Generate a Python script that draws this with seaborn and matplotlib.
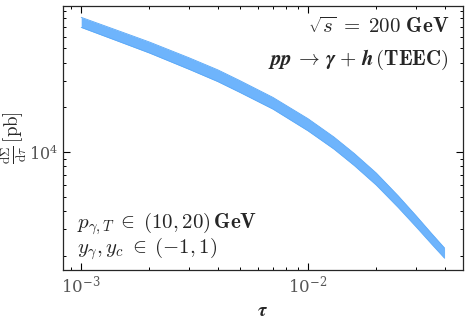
import matplotlib
matplotlib.use('Agg')
from matplotlib import pyplot as plt
import seaborn as sns
import numpy as np

# values (log-log band, upper and lower edge)
tau = [1e-3, 1.5e-3, 2e-3, 3e-3, 4e-3, 5e-3, 7e-3, 1e-2, 1.3e-2, 1.6e-2,
       2e-2, 2.5e-2, 3e-2, 3.5e-2, 4e-2]
sigma_up = [8.12e4, 6.49e4, 5.53e4, 4.32e4, 3.59e4, 3.04e4, 2.34e4, 1.68e4, 1.265e4, 9.78e3,
            7.22e3, 5.06e3, 3.71e3, 2.83e3, 2.25e3]
sigma_lo = [6.94e4, 5.50e4, 4.66e4, 3.61e4, 2.99e4, 2.53e4, 1.95e4, 1.39e4, 1.048e4, 8.10e3,
            5.98e3, 4.22e3, 3.12e3, 2.40e3, 1.92e3]

sns.set_style('ticks')
plt.rcParams['mathtext.fontset'] = 'cm'
plt.rcParams['font.family'] = ['DejaVu Serif']

fig, ax = plt.subplots(figsize=(4.69, 3.26), dpi=100)
fig.subplots_adjust(left=0.134, right=0.987, top=0.982, bottom=0.172)

band_col = '#6eb4fc'
ax.fill_between(tau, sigma_lo, sigma_up, color=band_col, lw=0)
sns.lineplot(x=tau, y=sigma_up, ax=ax, color='#5aa8f7', lw=0.6)
sns.lineplot(x=tau, y=sigma_lo, ax=ax, color='#5aa8f7', lw=0.6)

ax.set_xscale('log')
ax.set_yscale('log')
ax.set_xlim(8.3e-4, 4.82e-2)
ax.set_ylim(1.6e3, 9.7e4)

ax.tick_params(which='both', direction='in', top=True, right=True, labelsize=12, colors='black')
ax.tick_params(axis='y', labelsize=11.5)
ax.tick_params(which='major', length=5, width=0.8)
ax.tick_params(which='minor', length=2.5, width=0.7)
for sp in ax.spines.values():
    sp.set_linewidth(0.9)
for lab in ax.get_xticklabels() + ax.get_yticklabels():
    lab.set_color('#555555')

ax.set_xlabel(r'$\boldsymbol{\tau}$', fontsize=14, labelpad=4)
ax.set_ylabel(r'$\frac{\mathrm{d}\Sigma}{\mathrm{d}\tau}\,[\mathrm{pb}]$', fontsize=13.5, labelpad=0)

ax.text(0.965, 0.92, r'$\boldsymbol{\sqrt{s}}\;\mathbf{=\;200\ GeV}$', transform=ax.transAxes,
        ha='right', va='center', fontsize=15)
ax.text(0.965, 0.795, r'$\boldsymbol{pp}\,\boldsymbol{\rightarrow}\,\boldsymbol{\gamma}\;\mathbf{+}\;\boldsymbol{h}\,\mathbf{(TEEC)}$',
        transform=ax.transAxes, ha='right', va='center', fontsize=15)
ax.text(0.035, 0.175, r'$\boldsymbol{p_{\gamma,T}}\;\boldsymbol{\in}\;\mathbf{(10,20)\,GeV}$', transform=ax.transAxes,
        ha='left', va='center', fontsize=15)
ax.text(0.035, 0.08, r'$\boldsymbol{y_{\gamma},y_{c}}\;\boldsymbol{\in}\;\mathbf{(-1,1)}$', transform=ax.transAxes,
        ha='left', va='center', fontsize=15)

fig.savefig('out.png', dpi=100)
